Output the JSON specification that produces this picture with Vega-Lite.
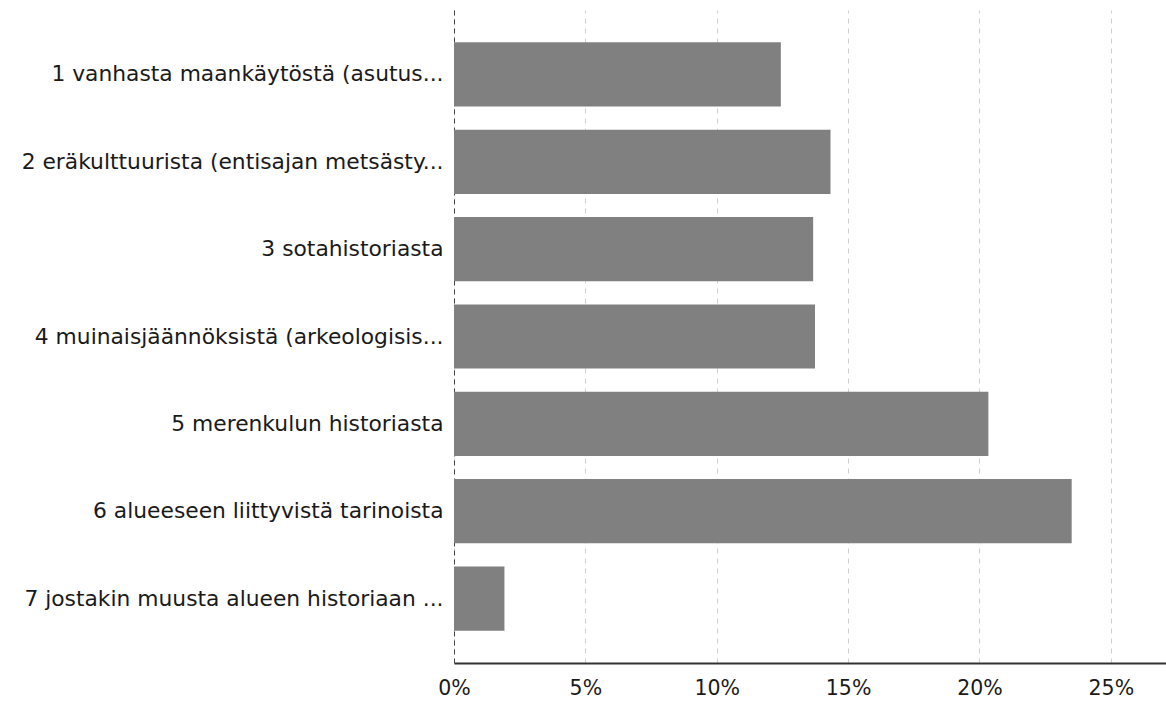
{
  "$schema": "https://vega.github.io/schema/vega-lite/v6.json",
  "width": 712,
  "height": 653,
  "autosize": {"type": "none"},
  "padding": {"left": 454, "top": 10, "right": 0, "bottom": 41},
  "background": "white",
  "data": {
    "values": [
      {"label": "1 vanhasta maankäytöstä (asutus...", "pct": 12.44},
      {"label": "2 eräkulttuurista (entisajan metsästy...", "pct": 14.33},
      {"label": "3 sotahistoriasta", "pct": 13.67},
      {"label": "4 muinaisjäännöksistä (arkeologisis...", "pct": 13.74},
      {"label": "5 merenkulun historiasta", "pct": 20.34},
      {"label": "6 alueeseen liittyvistä tarinoista", "pct": 23.51},
      {"label": "7 jostakin muusta alueen historiaan ...", "pct": 1.92}
    ]
  },
  "mark": {"type": "bar", "color": "#808080"},
  "encoding": {
    "y": {
      "field": "label",
      "type": "nominal",
      "sort": null,
      "title": null,
      "scale": {"paddingInner": 0.265, "paddingOuter": 0.37},
      "axis": {
        "ticks": false,
        "grid": false,
        "domain": true,
        "domainColor": "#444",
        "domainDash": [5, 4],
        "domainWidth": 1,
        "labelPadding": 11,
        "labelFont": "DejaVu Sans",
        "labelFontSize": 21.8,
        "labelColor": "#1a1a1a",
        "labelLimit": 460
      }
    },
    "x": {
      "field": "pct",
      "type": "quantitative",
      "title": null,
      "scale": {"domain": [0, 27.1], "nice": false, "zero": true},
      "axis": {
        "values": [0, 5, 10, 15, 20, 25],
        "labelExpr": "datum.value + '%'",
        "ticks": false,
        "grid": true,
        "gridColor": "#d0d0d0",
        "gridDash": [5, 5],
        "gridWidth": 1,
        "domainColor": "#333",
        "domainWidth": 2,
        "labelPadding": 15,
        "labelFont": "DejaVu Sans",
        "labelFontSize": 20.5,
        "labelColor": "#1a1a1a",
        "labelFlush": false
      }
    }
  },
  "config": {"view": {"stroke": null}}
}
